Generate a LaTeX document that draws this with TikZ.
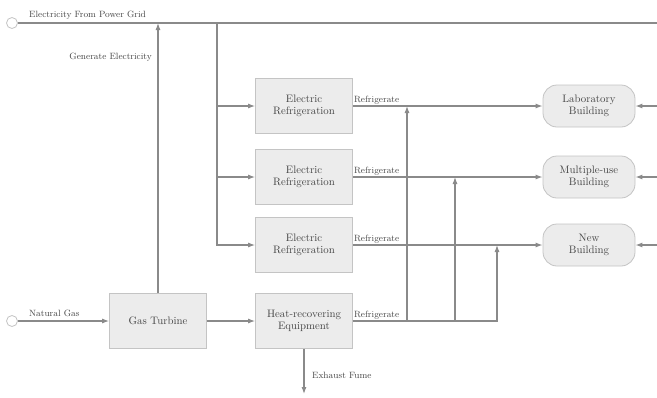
\documentclass[tikz,border=0pt]{standalone}
\usetikzlibrary{arrows.meta,positioning}

\definecolor{linegray}{HTML}{8A8A8A}
\definecolor{boxfill}{HTML}{ECECEC}
\definecolor{boxline}{HTML}{C4C4C4}
\definecolor{textgray}{HTML}{454545}

\tikzset{
	flow/.style={draw=linegray, line width=1.1pt, -{Latex[length=7pt,width=5pt]}},
	plain/.style={draw=linegray, line width=1.1pt},
	unit/.style={draw=boxline, fill=boxfill, line width=0.8pt, minimum width=97pt, minimum height=55pt, align=center, font=\fontsize{10.8}{12.5}\selectfont, text=textgray},
	bldg/.style={draw=boxline, fill=boxfill, line width=0.8pt, rounded corners=14pt, minimum width=92pt, minimum height=42pt, align=center, font=\fontsize{10.8}{12.5}\selectfont, text=textgray},
	port/.style={draw=boxline, fill=white, circle, line width=0.8pt, minimum size=11pt, inner sep=0pt},
	lbl/.style={font=\fontsize{9.1}{10.5}\selectfont, text=textgray, inner sep=1pt}
}

\begin{document}
\begin{tikzpicture}[x=1pt, y=-1pt]
			\useasboundingbox (0,0) rectangle (657,397);

			\node[port] (grid) at (12,23) {};
			\node[port] (gas) at (12,321) {};
			\node[unit] (turbine) at (158,321) {Gas Turbine};
			\node[unit] (hr) at (304,321) {Heat-recovering\\Equipment};
			\node[unit] (er1) at (304,106) {Electric\\Refrigeration};
			\node[unit] (er2) at (304,177) {Electric\\Refrigeration};
			\node[unit] (er3) at (304,245) {Electric\\Refrigeration};
			\node[bldg] (lab) at (589,106) {Laboratory\\Building};
			\node[bldg] (multi) at (589,177) {Multiple-use\\Building};
			\node[bldg] (new) at (589,245) {New\\Building};

			\coordinate (gridend) at (657,23);
			\coordinate (tap) at (217,23);
			\coordinate (j1) at (407,106);
			\coordinate (j2) at (455,177);
			\coordinate (j3) at (497,245);
			\coordinate (exhaust) at (304,394);

			% power grid and gas turbine
			\path[plain] (grid) -- (gridend);
			\path[flow] (turbine) -- (turbine |- grid);
			\path[flow] (gas) -- (turbine);
			\path[flow] (turbine) -- (hr);
			\path[flow] (hr) -- (exhaust);

			% electric refrigeration
			\path[flow] (tap) |- (er1);
			\path[flow] (tap) |- (er2);
			\path[flow] (tap) |- (er3);
			\path[flow] (er1) -- (lab);
			\path[flow] (er2) -- (multi);
			\path[flow] (er3) -- (new);

			% heat recovering
			\path[flow] (hr) -| (j1);
			\path[flow] (hr) -| (j2);
			\path[flow] (hr) -| (j3);

			% outside supply
			\path[flow] (657,106) -- (lab);
			\path[flow] (657,177) -- (multi);
			\path[flow] (657,245) -- (new);

			\node[lbl, anchor=south west] at (28,21) {Electricity From Power Grid};
			\node[lbl, anchor=east] at (153,57) {Generate Electricity};
			\node[lbl, anchor=south west] at (28,318) {Natural Gas};
			\node[lbl, anchor=west] at (311,375) {Exhaust Fume};
			\node[lbl, anchor=south west] at (er1.east) {Refrigerate};
			\node[lbl, anchor=south west] at (er2.east) {Refrigerate};
			\node[lbl, anchor=south west] at (er3.east) {Refrigerate};
			\node[lbl, anchor=south west] at (hr.east) {Refrigerate};
		\end{tikzpicture}
\end{document}
